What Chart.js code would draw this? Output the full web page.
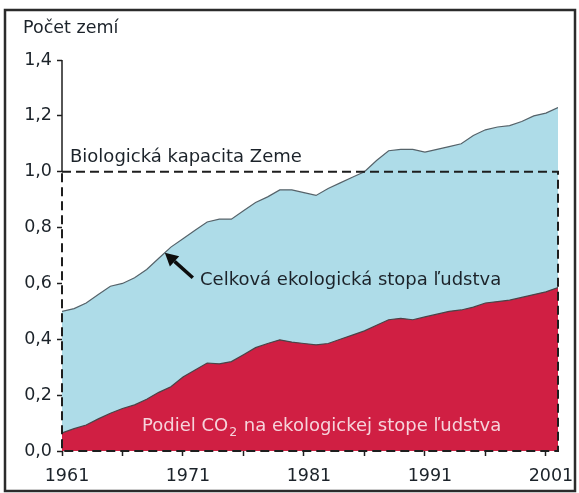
<!DOCTYPE html>
<html>
<head>
<meta charset="utf-8">
<script src="https://cdn.jsdelivr.net/npm/chart.js@4.4.1/dist/chart.umd.min.js"></script>
<style>
  html, body { margin: 0; padding: 0; background: #fff; }
  canvas { display: block; }
</style>
</head>
<body>
<canvas id="footprintChart" width="579" height="493"></canvas>
<script>
const years = [1961, 1962, 1963, 1964, 1965, 1966, 1967, 1968, 1969, 1970,
    1971, 1972, 1973, 1974, 1975, 1976, 1977, 1978, 1979, 1980,
    1981, 1982, 1983, 1984, 1985, 1986, 1987, 1988, 1989, 1990,
    1991, 1992, 1993, 1994, 1995, 1996, 1997, 1998, 1999, 2000,
    2001, 2002];

// total ecological footprint (number of Earths)
const totalFootprint = [0.50, 0.51, 0.53, 0.56, 0.59, 0.60, 0.62, 0.65, 0.69, 0.73,
    0.76, 0.79, 0.82, 0.83, 0.83, 0.86, 0.89, 0.91, 0.935, 0.935,
    0.925, 0.915, 0.94, 0.96, 0.98, 1.00, 1.04, 1.075, 1.08, 1.08,
    1.07, 1.08, 1.09, 1.10, 1.13, 1.15, 1.16, 1.165, 1.18, 1.20,
    1.21, 1.23];

// CO2 part of the footprint
const co2Share = [0.065, 0.08, 0.093, 0.115, 0.135, 0.152, 0.165, 0.185, 0.21, 0.23,
    0.265, 0.29, 0.315, 0.312, 0.32, 0.345, 0.37, 0.385, 0.398, 0.39,
    0.385, 0.38, 0.385, 0.40, 0.415, 0.43, 0.45, 0.47, 0.475, 0.47,
    0.48, 0.49, 0.50, 0.505, 0.515, 0.53, 0.535, 0.54, 0.55, 0.56,
    0.57, 0.585];

const bioCapacity = 1.0;
const yTicks = [0, 0.2, 0.4, 0.6, 0.8, 1.0, 1.2, 1.4];
const xTicks = [1961, 1966, 1971, 1976, 1981, 1986, 1991, 1996, 2001];
const xLabels = [1961, 1971, 1981, 1991, 2001];

const FONT = '"DejaVu Sans", Verdana, sans-serif';
const INK = '#1c232a';

function toPoints(values) {
    return years.map((yr, i) => ({ x: yr, y: values[i] }));
}

// frame, dashed capacity box, notes and arrow
const decor = {
    id: 'decor',
    afterDatasetsDraw(chart) {
        const ctx = chart.ctx;
        const xs = chart.scales.x;
        const ys = chart.scales.y;
        const left = xs.getPixelForValue(years[0]);
        const right = xs.getPixelForValue(years[years.length - 1]);
        const top = ys.getPixelForValue(ys.max);
        const capY = ys.getPixelForValue(bioCapacity);
        const zeroY = ys.getPixelForValue(0);

        ctx.save();
        // outer frame
        ctx.strokeStyle = '#2b2b2b';
        ctx.lineWidth = 2.5;
        ctx.strokeRect(5, 10, 570, 481);

        // y axis solid part above the capacity line
        ctx.strokeStyle = '#1e1e1e';
        ctx.lineWidth = 1.5;
        ctx.beginPath();
        ctx.moveTo(left, top);
        ctx.lineTo(left, capY);
        ctx.stroke();

        // dashed capacity box
        ctx.lineWidth = 2;
        ctx.setLineDash([9, 5]);
        ctx.beginPath();
        ctx.moveTo(left, capY);
        ctx.lineTo(right, capY);
        ctx.lineTo(right, zeroY);
        ctx.lineTo(left, zeroY);
        ctx.closePath();
        ctx.stroke();
        ctx.setLineDash([]);

        // texts
        ctx.fillStyle = INK;
        ctx.textBaseline = 'alphabetic';
        ctx.textAlign = 'left';
        ctx.font = '17.5px ' + FONT;
        ctx.fillText('Počet zemí', 23, 33);
        ctx.font = '18px ' + FONT;
        ctx.fillText('Biologická kapacita Zeme', 70, capY - 10);
        ctx.fillText('Celková ekologická stopa ľudstva', 200, 285);

        ctx.fillStyle = '#f6d3db';
        let tx = 142;
        const ty = 431;
        const a = 'Podiel CO';
        ctx.fillText(a, tx, ty);
        tx += ctx.measureText(a).width;
        ctx.font = '12.5px ' + FONT;
        ctx.fillText('2', tx + 1, ty + 5);
        tx += ctx.measureText('2').width + 2;
        ctx.font = '18px ' + FONT;
        ctx.fillText(' na ekologickej stope ľudstva', tx, ty);

        // arrow pointing at the total footprint curve
        const arrowYear = 1969.5;
        const i = years.indexOf(1969);
        const v = totalFootprint[i] + (totalFootprint[i + 1] - totalFootprint[i]) * 0.5;
        const tipX = xs.getPixelForValue(arrowYear);
        const tipY = ys.getPixelForValue(v);
        const tailX = tipX + 28, tailY = tipY + 25;
        const ang = Math.atan2(tipY - tailY, tipX - tailX);
        const headLen = 13, headW = 7;
        const baseX = tipX - headLen * Math.cos(ang);
        const baseY = tipY - headLen * Math.sin(ang);
        ctx.strokeStyle = '#0d0d0d';
        ctx.fillStyle = '#0d0d0d';
        ctx.lineWidth = 3.5;
        ctx.beginPath();
        ctx.moveTo(tailX, tailY);
        ctx.lineTo(baseX, baseY);
        ctx.stroke();
        ctx.beginPath();
        ctx.moveTo(tipX, tipY);
        ctx.lineTo(baseX + headW * Math.sin(ang), baseY - headW * Math.cos(ang));
        ctx.lineTo(baseX - headW * Math.sin(ang), baseY + headW * Math.cos(ang));
        ctx.closePath();
        ctx.fill();
        ctx.restore();
    }
};

const ctx = document.getElementById('footprintChart').getContext('2d');
new Chart(ctx, {
    type: 'line',
    data: {
        datasets: [{
            label: 'Podiel CO2 na ekologickej stope ľudstva',
            data: toPoints(co2Share),
            backgroundColor: '#d01f43',
            borderColor: '#4a4448',
            borderWidth: 1.2,
            fill: 'origin',
            pointRadius: 0,
            tension: 0
        }, {
            label: 'Celková ekologická stopa ľudstva',
            data: toPoints(totalFootprint),
            backgroundColor: '#aedce8',
            borderColor: '#56636a',
            borderWidth: 1.2,
            fill: 'origin',
            pointRadius: 0,
            tension: 0
        }]
    },
    options: {
        responsive: false,
        animation: false,
        devicePixelRatio: 1,
        layout: {
            autoPadding: false,
            padding: { top: 60, right: 21, bottom: 0, left: 0 }
        },
        plugins: {
            legend: { display: false },
            tooltip: { enabled: false }
        },
        scales: {
            x: {
                type: 'linear',
                min: years[0],
                max: years[years.length - 1],
                afterBuildTicks: s => { s.ticks = xTicks.map(v => ({ value: v })); },
                afterFit: s => { s.height = 42; },
                ticks: {
                    autoSkip: false,
                    maxRotation: 0,
                    padding: 10,
                    labelOffset: 5,
                    color: INK,
                    font: { family: FONT, size: 17.5 },
                    callback: v => xLabels.includes(v) ? String(v) : ''
                },
                grid: {
                    drawOnChartArea: false,
                    tickLength: 5,
                    tickWidth: 1.5,
                    tickColor: '#1e1e1e'
                },
                border: { display: false }
            },
            y: {
                min: 0,
                max: 1.4,
                afterBuildTicks: s => { s.ticks = yTicks.map(v => ({ value: v })); },
                afterFit: s => { s.width = 62; },
                ticks: {
                    padding: 5,
                    color: INK,
                    font: { family: FONT, size: 17.5 },
                    callback: v => v.toFixed(1).replace('.', ',')
                },
                grid: {
                    drawOnChartArea: false,
                    tickLength: 5,
                    tickWidth: 1.5,
                    tickColor: '#1e1e1e'
                },
                border: { display: false }
            }
        }
    },
    plugins: [decor]
});
</script>
</body>
</html>
